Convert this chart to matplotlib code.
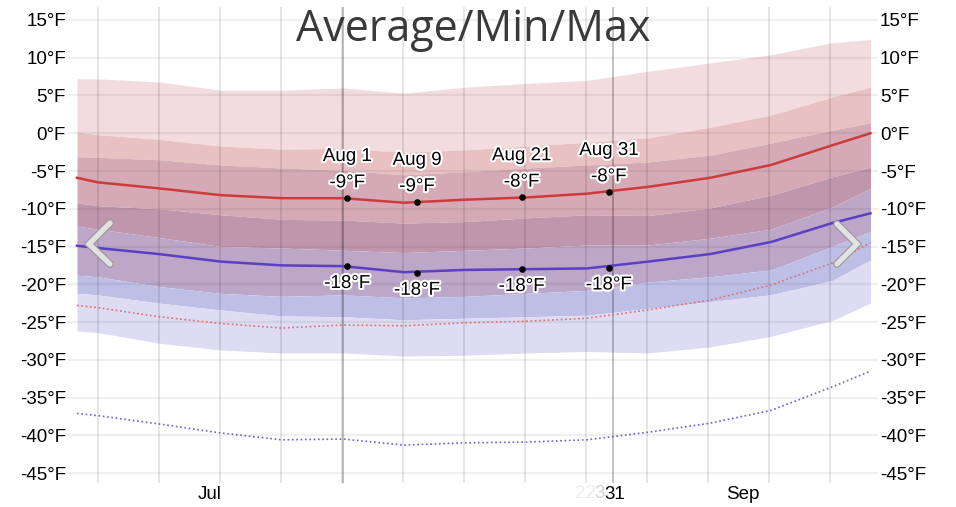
import numpy as np
import matplotlib
matplotlib.use('Agg')
import matplotlib.pyplot as plt
import matplotlib.patheffects as pe
from matplotlib.lines import Line2D

# x = days since Jul 1
days = [0, 2.4, 9.4, 16.5, 23.5, 30.5, 37.5, 44.5, 51.6, 58.5, 65.5, 72.6, 79.6, 86.6, 91.0]

# band edges (°F), top to bottom
high_p90 = [7.2, 7.2, 6.8, 5.7, 5.7, 6.0, 5.3, 6.1, 6.6, 7.0, 8.2, 9.3, 10.4, 12.0, 12.4]
high_p75 = [0.2, -0.2, -0.8, -1.7, -2.1, -2.0, -2.5, -2.2, -1.7, -1.2, -0.6, 0.8, 2.4, 4.8, 6.1]
low_p90 = [-3.1, -3.2, -3.5, -4.2, -4.6, -4.9, -5.5, -5.1, -4.6, -4.2, -3.8, -2.9, -1.3, 0.4, 1.4]
low_p75 = [-9.2, -9.6, -10.0, -10.8, -11.4, -11.5, -11.9, -11.7, -11.2, -10.8, -10.9, -9.9, -8.2, -5.8, -4.5]
high_p25 = [-12.3, -12.7, -13.8, -15.0, -15.2, -15.5, -15.8, -15.5, -15.2, -14.8, -14.8, -13.9, -12.7, -9.8, -7.3]
high_p10 = [-18.8, -19.0, -20.3, -21.2, -21.6, -21.4, -21.8, -21.6, -21.2, -20.8, -19.7, -19.0, -18.1, -15.0, -13.0]
low_p25 = [-21.2, -21.4, -22.5, -23.4, -24.2, -24.3, -24.7, -24.5, -24.3, -24.1, -23.2, -22.3, -21.4, -19.5, -16.8]
low_p10 = [-26.2, -26.4, -27.8, -28.7, -29.1, -29.1, -29.5, -29.4, -29.1, -28.9, -29.1, -28.3, -26.9, -24.8, -22.5]

avg_high = [-5.9, -6.5, -7.3, -8.2, -8.6, -8.6, -9.2, -8.8, -8.5, -8.0, -7.1, -5.9, -4.2, -1.6, 0.0]
avg_low = [-14.9, -15.2, -16.0, -17.0, -17.5, -17.6, -18.4, -18.1, -18.0, -17.9, -17.0, -16.0, -14.4, -11.9, -10.6]
feels_high = [-22.8, -23.1, -24.3, -25.2, -25.8, -25.4, -25.5, -25.1, -24.9, -24.5, -23.4, -22.1, -20.1, -17.2, -14.5]
feels_low = [-37.1, -37.4, -38.5, -39.7, -40.6, -40.5, -41.3, -41.0, -40.9, -40.6, -39.6, -38.4, -36.7, -33.6, -31.5]

# marked days
mark_days = [31, 39, 51, 61]
mark_names = ['Aug 1', 'Aug 9', 'Aug 21', 'Aug 31']
mark_high = [-8.6, -9.1, -8.5, -7.8]
mark_low = [-17.6, -18.5, -18.0, -17.8]
mark_high_lbl = ['-9°F', '-9°F', '-8°F', '-8°F']
mark_low_lbl = ['-18°F', '-18°F', '-18°F', '-18°F']

y_ticks = list(range(15, -50, -5))
x_tick_pos = [15.2, 61.7, 76.4]
x_tick_lbl = ['Jul', '31', 'Sep']

plt.rcParams['font.family'] = ['Liberation Sans', 'DejaVu Sans']

fig = plt.figure(figsize=(9.56, 5.07), dpi=100)
ax = fig.add_axes([68 / 956, 1 - 483 / 507, 810 / 956, 476 / 507])
ax.set_xlim(-1.03, 91.86)
ax.set_ylim(-46.32, 16.72)

edges = [high_p90, high_p75, low_p90, low_p75, high_p25, high_p10, low_p25, low_p10]
colors = ['#f2dcdd', '#e9c1c2', '#d5a9b6', '#c096ad', '#bca7c9', '#bebfe7', '#dddcf3']
for i in range(len(colors)):
    ax.fill_between(days, edges[i], edges[i + 1], color=colors[i], lw=0, zorder=1)

# grid on top of the bands
for t in y_ticks:
    ax.axhline(t, color='black', alpha=0.06, lw=1.6, zorder=2)
for d in np.arange(2.4, 90, 7.0):
    ax.axvline(d, color='black', alpha=0.13, lw=1.1, zorder=2)
for d in [30.5, 61.5]:
    ax.axvline(d, color='black', alpha=0.3, lw=1.1, zorder=2)

ax.plot(days, feels_high, color='#e06a6a', lw=1.2, ls=(0, (1, 1.6)), zorder=3)
ax.plot(days, feels_low, color='#6e62d6', lw=1.2, ls=(0, (1, 1.6)), zorder=3)
ax.plot(days, avg_high, color='#cc3b3b', lw=1.8, zorder=4)
ax.plot(days, avg_low, color='#5a40c2', lw=1.8, zorder=4)

halo = [pe.withStroke(linewidth=3, foreground='white')]
ax.scatter(mark_days, mark_high, s=14, color='black', zorder=5)
ax.scatter(mark_days, mark_low, s=14, color='black', zorder=5)
for d, n, h, hl, l, ll in zip(mark_days, mark_names, mark_high, mark_high_lbl, mark_low, mark_low_lbl):
    ax.annotate(n, (d, h), xytext=(0, 30), textcoords='offset points', ha='center', va='center',
                fontsize=13.5, path_effects=halo, zorder=6)
    ax.annotate(hl, (d, h), xytext=(0, 11), textcoords='offset points', ha='center', va='center',
                fontsize=13.5, path_effects=halo, zorder=6)
    ax.annotate(ll, (d, l), xytext=(0, -12.5), textcoords='offset points', ha='center', va='center',
                fontsize=13.5, path_effects=halo, zorder=6)

ax.set_yticks(y_ticks)
ax.set_yticklabels([f'{t}°F' for t in y_ticks])
ax.set_xticks(x_tick_pos)
ax.set_xticklabels(x_tick_lbl)
ax.tick_params(axis='y', length=0, pad=1.5, labelsize=13.5, labelright=True)
ax.tick_params(axis='x', length=0, pad=2.5, labelsize=13.5)
for s in ax.spines.values():
    s.set_visible(False)

# faded digits left of "31"
xt = ax.get_xaxis_transform()
ax.text(60.55, -0.022, '3', transform=xt, ha='right', va='center', fontsize=13.5, color='#d2d2d2')
ax.text(59.55, -0.022, '22', transform=xt, ha='right', va='center', fontsize=13.5, color='#ededed')

# slider chevrons
def chevron(pts):
    xs = [p[0] / 956 for p in pts]
    ys = [1 - p[1] / 507 for p in pts]
    fig.add_artist(Line2D(xs, ys, color='#9a9a9a', lw=5.5, solid_capstyle='round',
                          solid_joinstyle='miter', zorder=10))
    fig.add_artist(Line2D(xs, ys, color='#e2e2e2', lw=3.8, solid_capstyle='round',
                          solid_joinstyle='miter', zorder=11))

chevron([(110, 223), (89, 244), (110, 264)])
chevron([(837, 224), (857, 244), (837, 264)])

fig.text(0.495, 0.942, 'Average/Min/Max', ha='center', va='center', fontsize=31,
         family='Open Sans', color='#3a3a3a')

fig.savefig('out.png', dpi=100)
